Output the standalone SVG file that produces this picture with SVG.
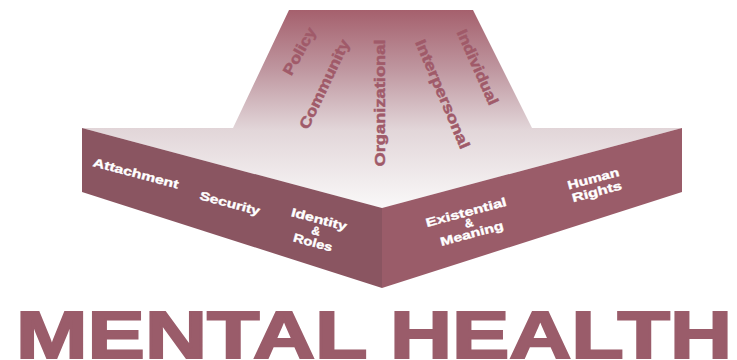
<svg xmlns="http://www.w3.org/2000/svg" width="737" height="360" viewBox="0 0 737 360">
<defs>
<linearGradient id="topGrad" gradientUnits="userSpaceOnUse" x1="0" y1="10" x2="0" y2="210">
<stop offset="0" stop-color="#a5606d"/>
<stop offset="0.3" stop-color="#bf97a0"/>
<stop offset="0.6" stop-color="#e2d6d9"/>
<stop offset="1" stop-color="#faf9f9"/>
</linearGradient>
</defs>
<style>
.top{font-family:"Liberation Sans",Arial,sans-serif;font-weight:bold;font-size:15px;fill:#a05a69;stroke:#a05a69;stroke-width:0.5px;text-anchor:middle}
.face{font-family:"Liberation Sans",Arial,sans-serif;font-weight:bold;font-size:12px;fill:#ffffff;stroke:#ffffff;stroke-width:0.35px;text-anchor:middle}
.title{font-family:"Liberation Sans",Arial,sans-serif;font-weight:bold;font-size:66px;fill:#9a5c6a;stroke:#9a5c6a;stroke-width:2px;stroke-linejoin:miter}
</style>
<rect width="737" height="360" fill="#ffffff"/>
<g id="arrow">
<polygon points="82,128 233,128 289,10 473,10 532,128 682,128 382,208" fill="url(#topGrad)"/>
<polygon points="82,128 382,208 382,288 82,192" fill="#8a5561"/>
<polygon points="382,208 682,128 682,192 382,288" fill="#9a5c69"/>
</g>
<g id="levels">
<g id="policy" transform="translate(299,51) rotate(-61)"><text class="top" x="0" y="5.5" textLength="52" lengthAdjust="spacingAndGlyphs">Policy</text></g>
<g id="community" transform="translate(324,84) rotate(-64.5)"><text class="top" x="0" y="5.5" textLength="97" lengthAdjust="spacingAndGlyphs">Community</text></g>
<g id="organizational" transform="translate(379,103) rotate(-90)"><text class="top" x="0" y="5.5" textLength="127" lengthAdjust="spacingAndGlyphs">Organizational</text></g>
<g id="interpersonal" transform="translate(443,94) rotate(67)"><text class="top" x="0" y="5.5" textLength="117" lengthAdjust="spacingAndGlyphs">Interpersonal</text></g>
<g id="individual" transform="translate(478,67) rotate(66)"><text class="top" x="0" y="5.5" textLength="81" lengthAdjust="spacingAndGlyphs">Individual</text></g>
</g>
<g id="needs">
<g id="attachment" transform="translate(136,173) rotate(15)"><text class="face" x="0" y="4.5" textLength="88" lengthAdjust="spacingAndGlyphs">Attachment</text></g>
<g id="security" transform="translate(230,203) rotate(15)"><text class="face" x="0" y="4.5" textLength="62" lengthAdjust="spacingAndGlyphs">Security</text></g>
<g id="identity" transform="translate(316,231) rotate(15)">
<text class="face" x="0" y="-8" textLength="57" lengthAdjust="spacingAndGlyphs">Identity</text>
<text class="face" x="0" y="4">&amp;</text>
<text class="face" x="0" y="16" textLength="40" lengthAdjust="spacingAndGlyphs">Roles</text>
</g>
<g id="existential" transform="translate(469,223) rotate(-15)">
<text class="face" x="0" y="-7" textLength="83" lengthAdjust="spacingAndGlyphs">Existential</text>
<text class="face" x="0" y="4">&amp;</text>
<text class="face" x="0" y="15" textLength="65" lengthAdjust="spacingAndGlyphs">Meaning</text>
</g>
<g id="rights" transform="translate(595,185) rotate(-15)">
<text class="face" x="0" y="-2.5" textLength="53" lengthAdjust="spacingAndGlyphs">Human</text>
<text class="face" x="0" y="11" textLength="51" lengthAdjust="spacingAndGlyphs">Rights</text>
</g>
</g>
<g id="title">
<text class="title" x="16" y="358" textLength="716" lengthAdjust="spacingAndGlyphs">MENTAL HEALTH</text>
</g>
</svg>
